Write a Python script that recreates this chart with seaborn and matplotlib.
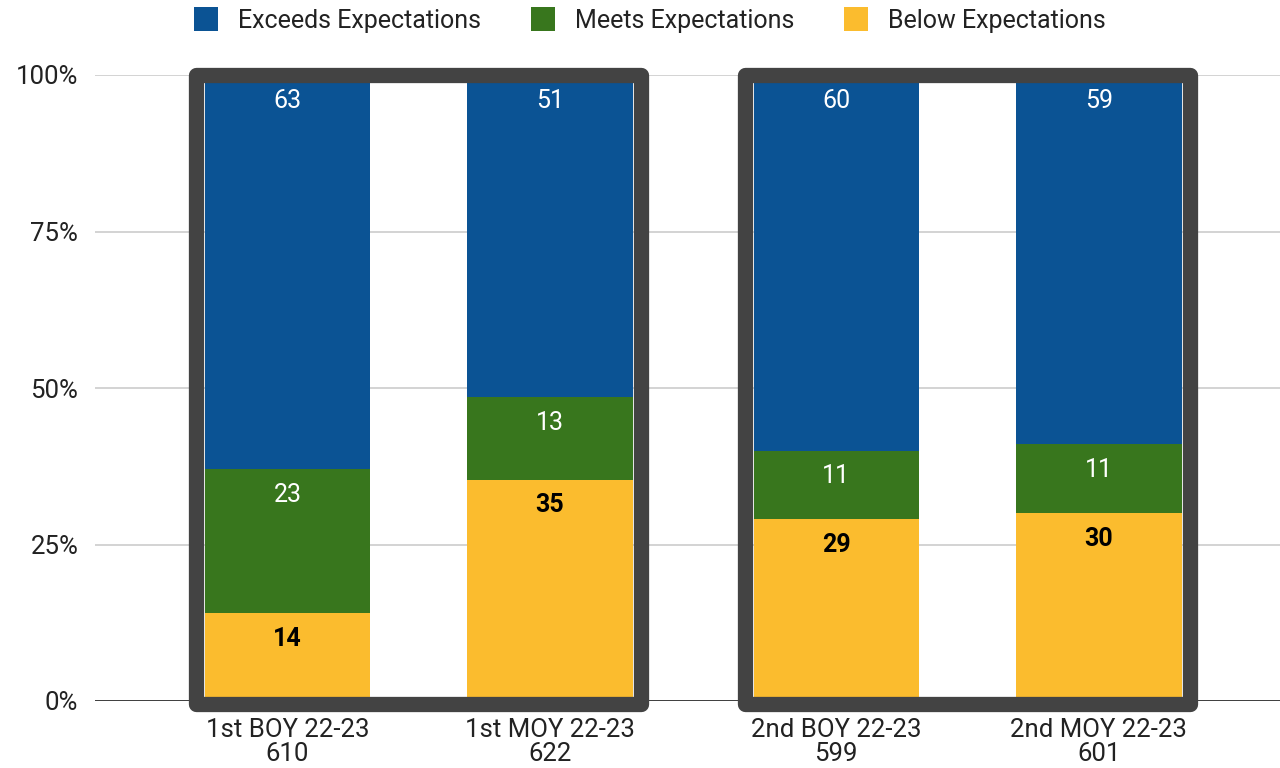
import numpy as np
import matplotlib
matplotlib.use("Agg")
import matplotlib.pyplot as plt
import seaborn as sns
import pandas as pd
from matplotlib.patches import Patch, Rectangle

# chart values
categories = ["1st BOY 22-23\n610", "1st MOY 22-23\n622", "2nd BOY 22-23\n599", "2nd MOY 22-23\n601"]
positions = [0.0, 1.0, 2.09, 3.09]
below = [14, 35, 29, 30]
meets = [23, 13, 11, 11]
exceeds = [63, 51, 60, 59]
series_names = ["Exceeds Expectations", "Meets Expectations", "Below Expectations"]
colors = {"Exceeds Expectations": "#0b5394", "Meets Expectations": "#38761d", "Below Expectations": "#fbbc2e"}

sns.set_theme(style="white")
plt.rcParams["font.family"] = ["Roboto", "DejaVu Sans"]

df = pd.DataFrame({"pos": positions, "below": below, "meets": meets, "exceeds": exceeds})
total = df[["below", "meets", "exceeds"]].sum(axis=1)
df["b"] = df["below"] / total
df["m"] = (df["below"] + df["meets"]) / total
df["e"] = 1.0

fig = plt.figure(figsize=(12.8, 7.68), dpi=100)
ax = fig.add_axes([95 / 1280, 1 - 701 / 768, 1 - 95 / 1280, 626 / 768])

width = 0.63
# draw stacked bars from top cumulative down
for col, name in [("e", "Exceeds Expectations"), ("m", "Meets Expectations"), ("b", "Below Expectations")]:
    sns.barplot(data=df, x="pos", y=col, native_scale=True, width=width,
                color=colors[name], saturation=1, linewidth=0, ax=ax, zorder=2)

# value labels near top of each segment
for i in range(len(positions)):
    segs = [(df["e"][i], exceeds[i], "white", "normal"),
            (df["m"][i], meets[i], "white", "normal"),
            (df["b"][i], below[i], "black", "bold")]
    for top, val, tc, fw in segs:
        ax.annotate(str(val), (positions[i], top), xytext=(0, -18.5), textcoords="offset points",
                    ha="center", va="center", color=tc, fontsize=18, fontweight=fw, zorder=5)

# group boxes around pairs of bars
pad = 0.032
for a, b in [(0, 1), (2, 3)]:
    x0 = positions[a] - width / 2 - pad
    x1 = positions[b] + width / 2 + pad
    box = Rectangle((x0, -0.005), x1 - x0, 1.005, fill=False, edgecolor="#434343",
                    linewidth=11, joinstyle="round", clip_on=False, zorder=4)
    ax.add_patch(box)

ax.set_xlim(-0.733, 3.78)
ax.set_ylim(0, 1)
ax.set_yticks([0, 0.25, 0.5, 0.75, 1.0], ["0%", "25%", "50%", "75%", "100%"])
ax.set_xticks(positions, categories)
ax.set_xlabel("")
ax.set_ylabel("")
ax.tick_params(axis="both", length=0, labelsize=18.5, labelcolor="#222222")
ax.tick_params(axis="x", pad=12)
ax.tick_params(axis="y", pad=12)
for lab in ax.get_xticklabels():
    lab.set_linespacing(1.0)
ax.yaxis.grid(True, color="#cccccc", linewidth=1.2, zorder=0)
ax.set_axisbelow(True)
sns.despine(ax=ax, left=True, right=True, top=True, bottom=True)
ax.axhline(0, color="#333333", linewidth=1.3, zorder=1)

handles = [Patch(facecolor=colors[n], edgecolor="none", label=n) for n in series_names]
fig.legend(handles=handles, loc="center", bbox_to_anchor=(650 / 1280, 1 - 20 / 768), ncol=3,
           frameon=False, fontsize=18, handlelength=0.95, handleheight=1.1,
           handletextpad=0.8, columnspacing=2.0, labelcolor="#222222")

fig.savefig("out.png", dpi=100)
